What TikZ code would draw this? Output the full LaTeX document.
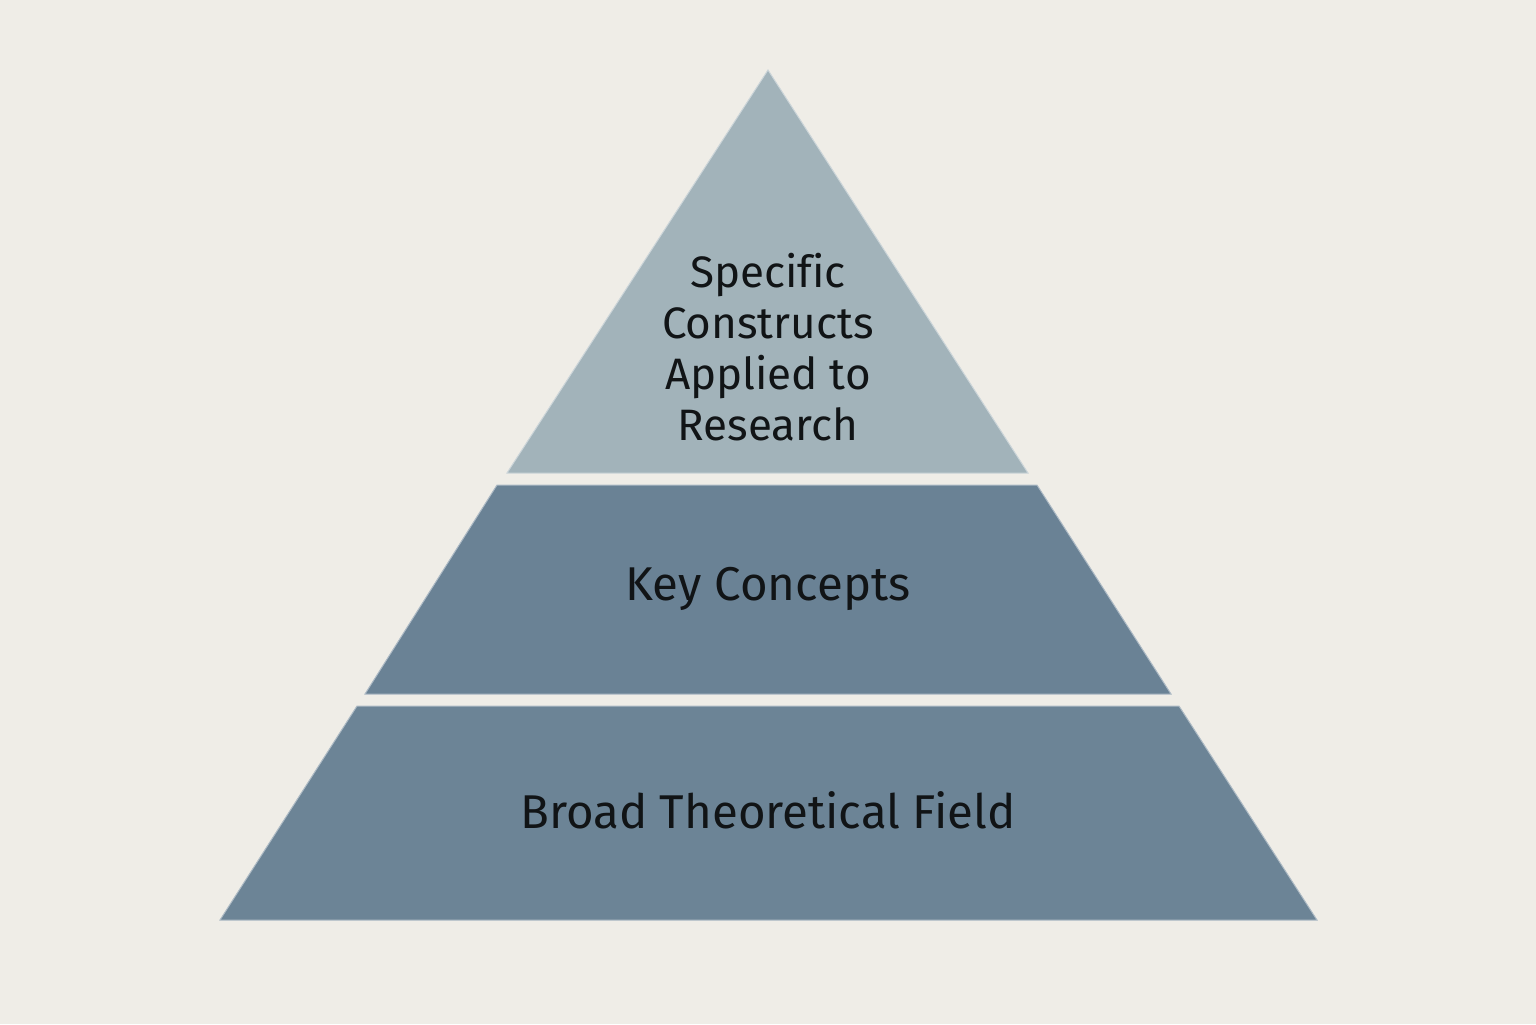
\documentclass[tikz,border=0pt]{standalone}
\usepackage{fontspec}
\setmainfont[Ligatures=NoCommon]{Fira Sans}
\usetikzlibrary{positioning,calc}
\definecolor{bgcol}{HTML}{EFEDE7}
\definecolor{topcol}{HTML}{A2B3BA}
\definecolor{midcol}{HTML}{6A8295}
\definecolor{botcol}{HTML}{6C8496}
\definecolor{txtcol}{HTML}{111416}
\tikzset{
  tier/.style = { draw=white!45!#1, line width=0.5pt, fill=#1 },
  lbl/.style  = { align=center, text=txtcol, inner sep=0pt,
    font=\fontsize{23.7}{25.5}\selectfont },
  toplbl/.style = { lbl, font=\fontsize{22}{25.5}\selectfont }
}
\begin{document}
\begin{tikzpicture}[x=0.5pt,y=-0.5pt]
  \fill[bgcol] (0,0) rectangle (1536,1024);
  \useasboundingbox (0,0) rectangle (1536,1024);
  % tiers, top to bottom
  \path[tier=topcol] (768,70) -- (1028,473) -- (507,473) -- cycle;
  \path[tier=midcol] (497,485) -- (1037,485) -- (1171,694) -- (365,694) -- cycle;
  \path[tier=botcol] (357,706) -- (1179,706) -- (1317,920) -- (220,920) -- cycle;
  % labels
  \node[toplbl] (spec) at (768,347) {Specific\\Constructs\\Applied to\\Research};
  \node[lbl] (key) at (768,589) {Key Concepts};
  \node[lbl] (broad) at (768,810) {Broad Theoretical Field};
\end{tikzpicture}
\end{document}
